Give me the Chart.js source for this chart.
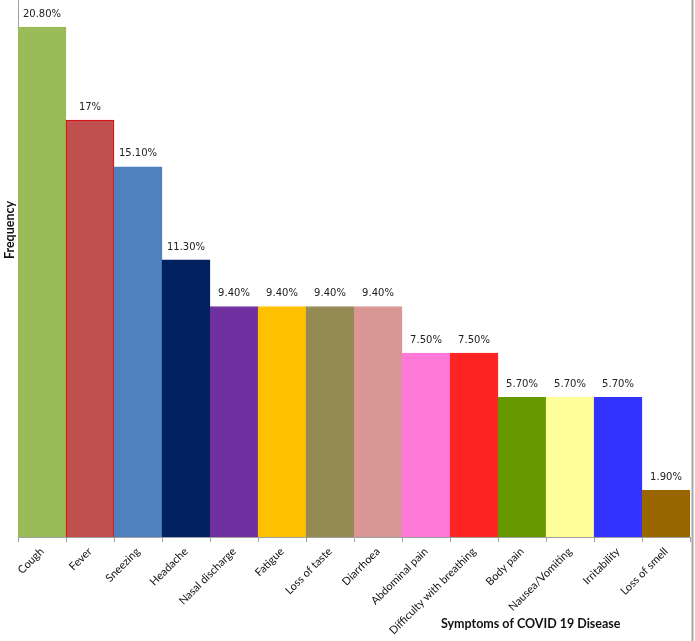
<!DOCTYPE html>
<html>
<head>
<meta charset="utf-8">
<script src="https://cdn.jsdelivr.net/npm/chart.js@4/dist/chart.umd.min.js"></script>
<style>
html,body{margin:0;padding:0;background:#fff;}
#wrap{width:695px;height:641px;position:relative;}
</style>
</head>
<body>
<div id="wrap"><canvas id="c" width="695" height="641"></canvas></div>
<script>
const categories = ["Cough","Fever","Sneezing","Headache","Nasal discharge","Fatigue","Loss of taste","Diarrhoea","Abdominal pain","Difficulty with breathing","Body pain","Nausea/Vomiting","Irritability","Loss of smell"];
const values = [20.8,17,15.1,11.3,9.4,9.4,9.4,9.4,7.5,7.5,5.7,5.7,5.7,1.9];
const valueLabels = ["20.80%","17%","15.10%","11.30%","9.40%","9.40%","9.40%","9.40%","7.50%","7.50%","5.70%","5.70%","5.70%","1.90%"];
const barColors = ["#9BBB59","#C0504D","#4F81BD","#002060","#7030A0","#FFC000","#948A54","#D99694","#FF79D9","#FF2424","#669900","#FFFF99","#3333FF","#996600"];
const borderColors = ["#9BBB59","#E00000","#4F81BD","#002060","#7030A0","#FFC000","#948A54","#D99694","#FF79D9","#FF2424","#669900","#FFFF99","#3333FF","#996600"];
const xTitle = "Symptoms of COVID 19 Disease";
const yTitle = "Frequency";

const labelPlugin = {
  id:'labels',
  afterDatasetsDraw(chart){
    const ctx = chart.ctx;
    const meta = chart.getDatasetMeta(0);
    ctx.save();
    ctx.font = '10px "DejaVu Sans", Verdana, sans-serif';
    ctx.fillStyle = '#222';
    ctx.textAlign = 'center';
    ctx.textBaseline = 'middle';
    meta.data.forEach((bar,i)=>{
      ctx.fillText(valueLabels[i], bar.x, bar.y - 13);
    });
    ctx.restore();
  },
  afterDraw(chart){
    const ctx = chart.ctx;
    const a = chart.chartArea;
    ctx.save();
    // right border
    ctx.strokeStyle = '#a6a6a6';
    ctx.lineWidth = 2;
    ctx.beginPath();
    ctx.moveTo(692.5, 0);
    ctx.lineTo(692.5, 641);
    ctx.stroke();
    // x title
    ctx.fillStyle = '#111';
    ctx.font = 'bold 12.5px Lato, "Open Sans", sans-serif';
    ctx.textAlign = 'center';
    ctx.textBaseline = 'middle';
    ctx.fillText(xTitle, a.left + (a.right - a.left) * 0.763, 624);
    // y title
    ctx.translate(10, 230);
    ctx.rotate(-Math.PI/2);
    ctx.fillText(yTitle, 0, 0);
    ctx.restore();
  }
};

new Chart(document.getElementById('c'), {
  type:'bar',
  data:{
    labels: categories,
    datasets:[{
      data: values,
      backgroundColor: barColors,
      borderColor: borderColors,
      borderWidth: 1,
      categoryPercentage: 1,
      barPercentage: 1
    }]
  },
  options:{
    responsive:false,
    animation:false,
    devicePixelRatio:1,
    layout:{padding:{left:0,right:5,top:0,bottom:0}},
    plugins:{legend:{display:false},tooltip:{enabled:false}},
    scales:{
      x:{
        offset:true,
        grid:{display:true,offset:true,drawOnChartArea:false,tickLength:5,color:'#a0a0a0'},
        border:{display:true,color:'#a0a0a0',width:1},
        ticks:{
          autoSkip:false,
          maxRotation:45,minRotation:45,
          color:'#111',
          font:{family:'Lato, "Open Sans", sans-serif',size:11},
          padding:3
        },
        afterFit(s){ s.height = 104; }
      },
      y:{
        min:0,max:21.9,
        grid:{display:false},
        border:{display:true,color:'#a0a0a0',width:1},
        ticks:{display:false},
        afterFit(s){ s.width = 18; }
      }
    }
  },
  plugins:[labelPlugin]
});
</script>
</body>
</html>
